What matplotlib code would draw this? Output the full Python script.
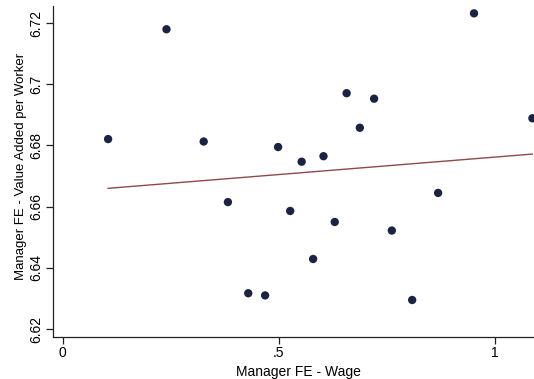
import matplotlib as mpl
mpl.rcParams['font.family'] = ['Liberation Sans', 'DejaVu Sans']
import matplotlib.pyplot as plt

# manager fixed effects: wage vs value added per worker
wage_fe = [0.105, 0.240, 0.326, 0.382, 0.429, 0.468, 0.498, 0.526, 0.5525, 0.579,
           0.603, 0.629, 0.6565, 0.687, 0.720, 0.761, 0.808, 0.868, 0.951, 1.086]
va_fe = [6.6821, 6.7180, 6.6813, 6.6615, 6.6317, 6.6310, 6.6795, 6.6586, 6.6747, 6.6429,
         6.6765, 6.6550, 6.6971, 6.6858, 6.6953, 6.6522, 6.6295, 6.6645, 6.7232, 6.6889]

# fitted line endpoints
fit_x = [0.105, 1.086]
fit_y = [6.6660, 6.6772]

xticks = [0, 0.5, 1]
xticklabels = ['0', '.5', '1']
yticks = [6.62, 6.64, 6.66, 6.68, 6.70, 6.72]
yticklabels = ['6.62', '6.64', '6.66', '6.68', '6.7', '6.72']

fig = plt.figure(figsize=(5.34, 3.79), dpi=100)
ax = fig.add_axes([53/534, 42.3/379, 490/534, 330.7/379])

ax.plot(fit_x, fit_y, c='#8e4a4a', lw=1.0, zorder=1)
ax.scatter(wage_fe, va_fe, s=36, c='#1b2342', edgecolors='none', zorder=2)

ax.set_xlim(-0.0224, 1.1105)
ax.set_ylim(6.6175, 6.7256)
ax.set_xticks(xticks)
ax.set_xticklabels(xticklabels)
ax.set_yticks(yticks)
ax.set_yticklabels(yticklabels, rotation=90, va='center')

for s in ['top', 'right']:
    ax.spines[s].set_visible(False)
for s in ['left', 'bottom']:
    ax.spines[s].set_color('#222222')
    ax.spines[s].set_linewidth(0.9)
ax.tick_params(length=5, width=0.9, color='#222222', labelsize=10, pad=2)

ax.set_xlabel('Manager FE - Wage', fontsize=10, labelpad=3)
ax.set_ylabel('Manager FE - Value Added per Worker', fontsize=9.5)
ax.yaxis.set_label_coords(-0.053, 0.516)

plt.savefig('out.png', dpi=100)
